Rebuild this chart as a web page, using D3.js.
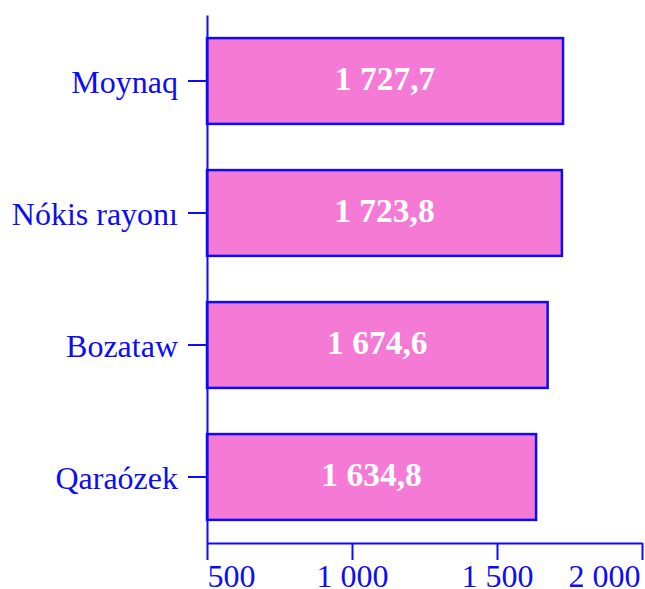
<!DOCTYPE html>
<head>
  <meta charset="utf-8">
  <script src="https://d3js.org/d3.v7.min.js"></script>
  <style>
    body { margin: 0; background: #fff; }
    svg { width: 645px; height: 589px; display: block; }
    text { font-family: "Liberation Serif", "Times New Roman", serif; }
  </style>
</head>

<body>
  <svg></svg>
  <script>
    // data
    var districts = ['Moynaq', 'Nókis rayonı', 'Bozataw', 'Qaraózek'];
    var values = [1727.7, 1723.8, 1674.6, 1634.8];
    var xTicks = [500, 1000, 1500, 2000];

    var blue = '#0c0cf5';
    var pink = '#f57ad6';

    var locale = d3.formatLocale({decimal: ',', thousands: ' ', grouping: [3], currency: ['', '']});
    var fmtVal = locale.format(',.1f');
    var fmtTick = locale.format(',d');

    var svg = d3.select('svg');

    var x = d3.scaleLinear()
      .domain([500, 2000])
      .range([207, 642]);
    var y = d3.scaleBand()
      .domain(districts)
      .range([15, 543])
      .paddingInner(0.35)
      .paddingOuter(0.175);

    var rows = districts.map(function(d, i) {
      return {name: d, value: values[i]};
    });

    // bars
    svg.append('g').selectAll('rect')
      .data(rows).enter().append('rect')
      .attr('x', x(500))
      .attr('y', function(d) { return y(d.name); })
      .attr('width', function(d) { return x(d.value) - x(500); })
      .attr('height', y.bandwidth())
      .attr('fill', pink)
      .attr('stroke', blue)
      .attr('stroke-width', 2.5);

    // value labels, centred on each bar
    svg.append('g').selectAll('text')
      .data(rows).enter().append('text')
      .attr('x', function(d) { return (x(500) + x(d.value)) / 2; })
      .attr('y', function(d) { return y(d.name) + y.bandwidth() / 2 + 9; })
      .attr('text-anchor', 'middle')
      .attr('font-size', 33.5)
      .attr('font-weight', 'bold')
      .attr('fill', '#fff')
      .text(function(d) { return fmtVal(d.value); });

    // x axis
    var gx = svg.append('g')
      .attr('transform', 'translate(0,543)')
      .call(d3.axisBottom(x).tickValues(xTicks).tickFormat(fmtTick).tickSize(17).tickSizeOuter(0).tickPadding(0));
    gx.select('.domain').attr('stroke', blue).attr('stroke-width', 2);
    gx.selectAll('.tick line').attr('stroke', blue).attr('stroke-width', 2);
    gx.selectAll('.tick text')
      .attr('fill', blue)
      .attr('font-size', 32)
      .attr('font-family', '"Liberation Serif", serif')
      .attr('dy', null)
      .attr('y', 44)
      .attr('text-anchor', function(d, i) {
        // first label sits right of its tick, last one left of it
        return i === 0 ? 'start' : (i === xTicks.length - 1 ? 'end' : 'middle');
      })
      .attr('dx', function(d, i) { return i === xTicks.length - 1 ? -2 : 0; });

    // y axis
    var gy = svg.append('g')
      .attr('transform', 'translate(207,0)')
      .call(d3.axisLeft(y).tickSize(19).tickSizeOuter(0).tickPadding(10));
    gy.select('.domain').attr('stroke', blue).attr('stroke-width', 2);
    gy.selectAll('.tick line').attr('stroke', blue).attr('stroke-width', 2);
    gy.selectAll('.tick text')
      .attr('fill', blue)
      .attr('font-size', 32)
      .attr('font-family', '"Liberation Serif", serif')
      .attr('dy', '0.38em');
  </script>
</body>
